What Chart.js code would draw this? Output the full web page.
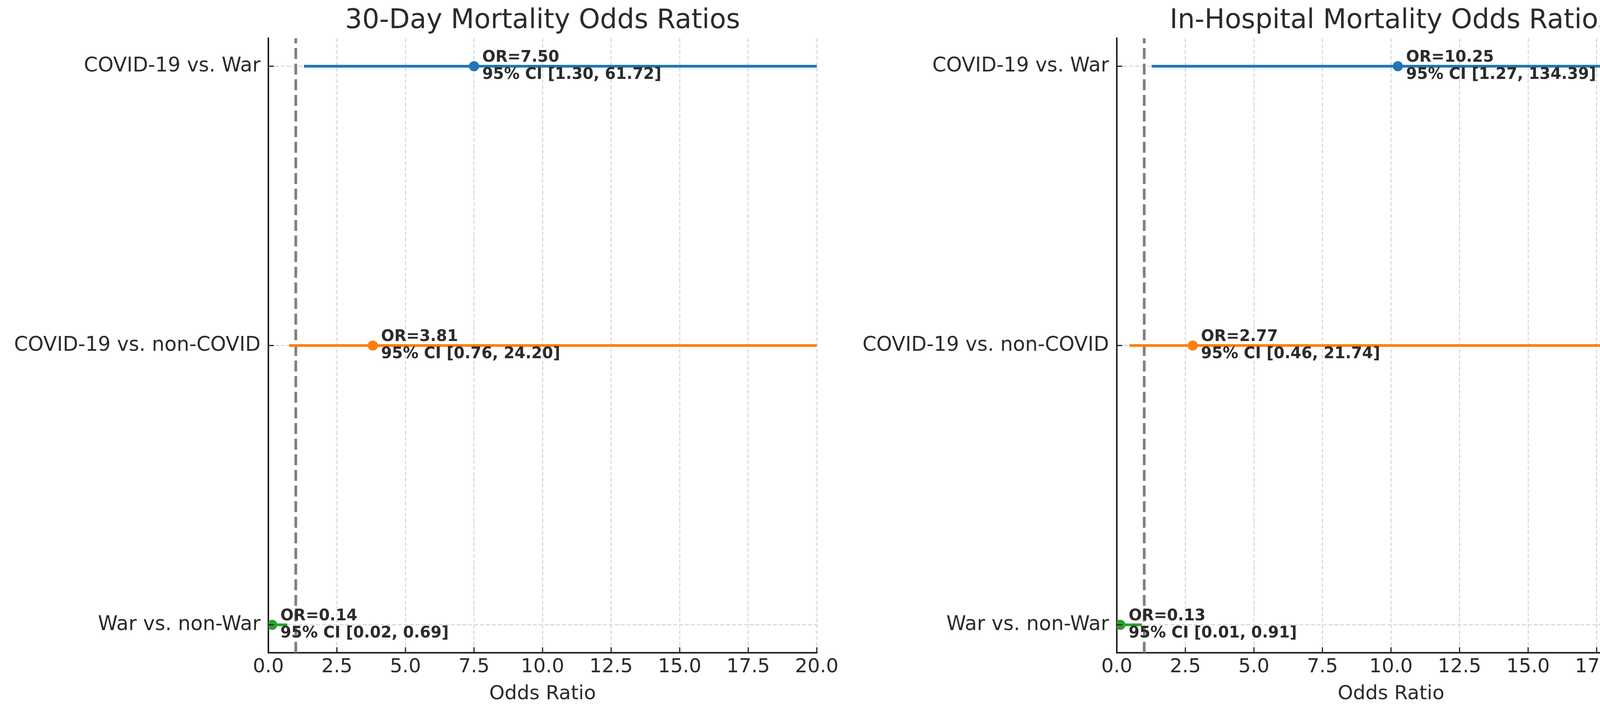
<!DOCTYPE html>
<html>
<head>
<meta charset="utf-8">
<script src="https://cdn.jsdelivr.net/npm/chart.js@4.4.1/dist/chart.umd.min.js"></script>
<style>
  html, body { margin: 0; padding: 0; background: #fff; }
  #wrap { position: relative; width: 4339px; height: 1815px; }
  .panel { position: absolute; top: 0; height: 1815px; }
</style>
</head>
<body>
<div id="wrap">
  <div class="panel" style="left:0;width:2170px"><canvas id="c30" width="2170" height="1815"></canvas></div>
  <div class="panel" style="left:2170px;width:2169px"><canvas id="cHosp" width="2169" height="1815"></canvas></div>
</div>
<script>
// comparisons, top to bottom
const comparisons = ['COVID-19 vs. War', 'COVID-19 vs. non-COVID', 'War vs. non-War'];
const rowPositions = [2, 1, 0];
const seriesColors = ['#1f77b4', '#ff7f0e', '#2ca02c'];

// 30-day mortality
const or30 = [7.50, 3.81, 0.14];
const lower30 = [1.30, 0.76, 0.02];
const upper30 = [61.72, 24.20, 0.69];

// in-hospital mortality
const orHosp = [10.25, 2.77, 0.13];
const lowerHosp = [1.27, 0.46, 0.01];
const upperHosp = [134.39, 21.74, 0.91];

const xTicks = [0, 2.5, 5, 7.5, 10, 12.5, 15, 17.5, 20];
const xLimits = [0, 20];
const yLimits = [-0.1, 2.1];
const refValue = 1;

const TXT = '#2b2b2b';
const SPINE = '#222222';
const GRID = '#d4d4d4';
Chart.defaults.font.family = "'DejaVu Sans', sans-serif";

const decor = {
  id: 'decor',
  afterDatasetsDraw(chart, args, opts) {
    const ctx = chart.ctx, xs = chart.scales.x, ys = chart.scales.y;
    ctx.save();
    ctx.fillStyle = TXT;
    ctx.font = "bold 40px 'DejaVu Sans'";
    ctx.textAlign = 'left';
    ctx.textBaseline = 'middle';
    opts.or.forEach(function (v, i) {
      const px = xs.getPixelForValue(v);
      const py = ys.getPixelForValue(rowPositions[i]);
      ctx.fillText('OR=' + v.toFixed(2), px + 21, py - 22);
      ctx.fillText('95% CI [' + opts.lo[i].toFixed(2) + ', ' + opts.hi[i].toFixed(2) + ']', px + 21, py + 22);
    });
    ctx.restore();
  },
  afterDraw(chart, args, opts) {
    const ctx = chart.ctx, a = chart.chartArea, xs = chart.scales.x, ys = chart.scales.y;
    ctx.save();
    // inward tick marks
    ctx.strokeStyle = SPINE;
    ctx.lineWidth = 3;
    ctx.beginPath();
    xTicks.forEach(function (v) {
      const px = xs.getPixelForValue(v);
      ctx.moveTo(px, a.bottom);
      ctx.lineTo(px, a.bottom - 14);
    });
    rowPositions.forEach(function (v) {
      const py = ys.getPixelForValue(v);
      ctx.moveTo(a.left, py);
      ctx.lineTo(a.left + 14, py);
    });
    ctx.stroke();
    // panel title
    ctx.fillStyle = TXT;
    ctx.font = "69px 'DejaVu Sans'";
    ctx.textAlign = 'center';
    ctx.textBaseline = 'alphabetic';
    ctx.fillText(opts.title, (a.left + a.right) / 2, 72);
    ctx.restore();
  }
};

function makeForest(id, title, or, lo, hi, axisWidth, padRight) {
  const datasets = [];
  // point estimates
  datasets.push({
    data: or.map(function (v, i) { return { x: v, y: rowPositions[i] }; }),
    pointRadius: 13,
    pointBackgroundColor: seriesColors,
    pointBorderWidth: 0,
    showLine: false,
    clip: 0,
    order: 0
  });
  // confidence intervals
  or.forEach(function (v, i) {
    datasets.push({
      data: [{ x: lo[i], y: rowPositions[i] }, { x: hi[i], y: rowPositions[i] }],
      showLine: true,
      borderColor: seriesColors[i],
      borderWidth: 7,
      pointRadius: 0,
      clip: 0,
      order: 1
    });
  });
  // reference line at OR = 1
  datasets.push({
    data: [{ x: refValue, y: yLimits[0] }, { x: refValue, y: yLimits[1] }],
    showLine: true,
    borderColor: '#808080',
    borderWidth: 7,
    borderDash: [28, 12],
    pointRadius: 0,
    clip: 0,
    order: 2
  });

  return new Chart(document.getElementById(id), {
    type: 'scatter',
    data: { datasets: datasets },
    options: {
      responsive: false,
      devicePixelRatio: 1,
      animation: false,
      events: [],
      layout: { padding: { top: 98, right: padRight, bottom: 0, left: 0 } },
      plugins: {
        legend: { display: false },
        tooltip: { enabled: false },
        title: { display: false },
        decor: { title: title, or: or, lo: lo, hi: hi }
      },
      scales: {
        x: {
          type: 'linear',
          min: xLimits[0],
          max: xLimits[1],
          afterBuildTicks: function (s) { s.ticks = xTicks.map(function (v) { return { value: v }; }); },
          afterFit: function (s) { s.height = 144; },
          ticks: {
            autoSkip: false, maxRotation: 0, padding: 7, color: TXT,
            font: { size: 50 },
            callback: function (v) { return Number(v).toFixed(1); }
          },
          grid: { color: GRID, lineWidth: 2.5, drawTicks: false },
          border: { display: true, color: SPINE, width: 4, dash: [10, 5] },
          title: { display: true, text: 'Odds Ratio', color: TXT, font: { size: 50 }, padding: { top: 0, bottom: 8 } }
        },
        y: {
          type: 'linear',
          min: yLimits[0],
          max: yLimits[1],
          afterBuildTicks: function (s) { s.ticks = rowPositions.map(function (v) { return { value: v }; }); },
          afterFit: function (s) { s.width = axisWidth; },
          ticks: {
            padding: 20, color: TXT,
            font: { size: 51 },
            callback: function (v) { return comparisons[rowPositions.indexOf(v)]; }
          },
          grid: { color: GRID, lineWidth: 2.5, drawTicks: false },
          border: { display: true, color: SPINE, width: 4, dash: [10, 5] }
        }
      }
    },
    plugins: [decor]
  });
}

makeForest('c30', '30-Day Mortality Odds Ratios', or30, lower30, upper30, 687, 79);
makeForest('cHosp', 'In-Hospital Mortality Odds Ratios', orHosp, lowerHosp, upperHosp, 689, 76);
</script>
</body>
</html>
